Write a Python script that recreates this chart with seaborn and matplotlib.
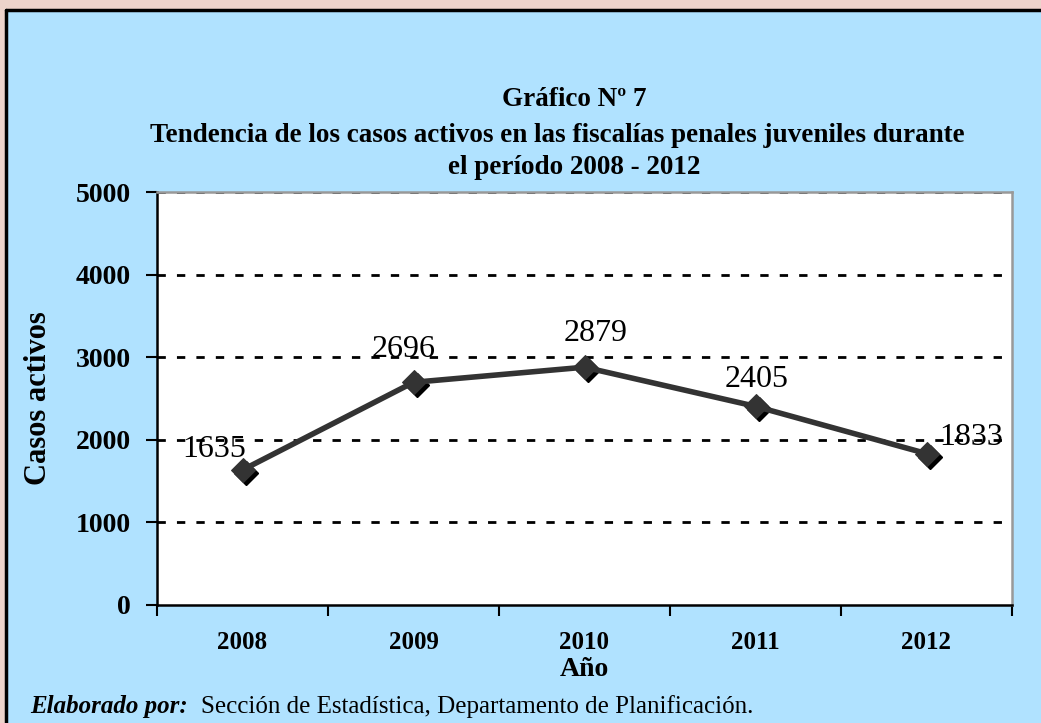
import matplotlib
matplotlib.use("Agg")
import matplotlib.pyplot as plt
import matplotlib.transforms as mtransforms
from matplotlib.patches import Rectangle
import seaborn as sns
import pandas as pd

years = ["2008", "2009", "2010", "2011", "2012"]
casos = [1635, 2696, 2879, 2405, 1833]
yticks = [0, 1000, 2000, 3000, 4000, 5000]

title_lines = ["Gráfico Nº 7",
               "Tendencia de los casos activos en las fiscalías penales juveniles durante",
               "el período 2008 - 2012"]

sns.set_theme(style="white")
plt.rcParams['font.family'] = ['Liberation Serif', 'DejaVu Serif']
plt.rcParams['text.color'] = 'black'
plt.rcParams['axes.labelcolor'] = 'black'
plt.rcParams['xtick.color'] = 'black'
plt.rcParams['ytick.color'] = 'black'

df = pd.DataFrame({"x": range(len(years)), "year": years, "casos": casos})

W, H = 1041, 723
fig = plt.figure(figsize=(W / 100, H / 100), dpi=100)
fig.patch.set_facecolor("#EDD3CB")
# blue panel
fig.patches.append(Rectangle((6 / W, 0), 1 - 6 / W, 1 - 10 / H, transform=fig.transFigure,
                             facecolor="#B0E2FF", edgecolor="none", zorder=-5))
fig.add_artist(plt.Line2D([6 / W, 1], [1 - 10 / H, 1 - 10 / H], transform=fig.transFigure,
                          color="black", lw=2.5, zorder=-4))
fig.add_artist(plt.Line2D([6 / W, 6 / W], [0, 1 - 10 / H], transform=fig.transFigure,
                          color="black", lw=2.5, zorder=-4))

ax = fig.add_axes([157 / W, 1 - 605 / H, (1012 - 157) / W, (605 - 192) / H])
ax.set_facecolor("white")

for y in yticks[1:]:
    ax.axhline(y, color="black", linestyle=(0, (3, 4)), linewidth=2, zorder=1)

# shadow markers
shadow = mtransforms.offset_copy(ax.transData, fig=fig, x=3, y=-3, units="dots")
ax.plot(df["x"], df["casos"], linestyle="none", marker="D", markersize=12, color="black",
        transform=shadow, zorder=3)
sns.lineplot(data=df, x="x", y="casos", ax=ax, color="#333333", linewidth=4,
             marker="D", markersize=12, markeredgecolor="#333333", zorder=4)

ax.set_xlim(-0.5, len(years) - 0.5)
ax.set_ylim(0, 5000)
ax.set_yticks(yticks)
ax.set_yticklabels([str(v) for v in yticks], fontsize=20, fontweight="bold", color="black")
ax.set_xticks(range(len(years)))
ax.set_xticklabels(years, fontsize=18, fontweight="bold", color="black")
ax.set_xticks([i - 0.5 for i in range(len(years) + 1)], minor=True)
ax.tick_params(axis="x", which="major", length=0, pad=19)
ax.tick_params(axis="x", which="minor", length=8, width=1.5, color="black", direction="out", bottom=True)
ax.tick_params(axis="y", which="major", length=8, width=1.5, color="black", direction="out",
               left=True, pad=11)

for s in ["left", "bottom"]:
    ax.spines[s].set_color("black")
    ax.spines[s].set_linewidth(1.8)
for s in ["right", "top"]:
    ax.spines[s].set_color("#999999")
    ax.spines[s].set_linewidth(1.8)

ax.set_xlabel("Año", fontsize=20, fontweight="bold", color="black")
ax.xaxis.set_label_coords(0.5, -0.126)
ax.set_ylabel("Casos activos", fontsize=22, fontweight="bold", color="black")
ax.yaxis.set_label_coords(-0.122, 0.5)

# data labels
offsets = [(-28, 20), (-10, 33), (11, 34), (1, 27), (45, 16)]
for xi, v, (dx, dy) in zip(df["x"], casos, offsets):
    ax.annotate(str(v), (xi, v), xytext=(dx, dy), textcoords="offset pixels", ha="center",
                va="center", fontsize=23, color="black", zorder=5)

for xx, yy, line in zip([574, 557, 574], [100, 136, 167], title_lines):
    fig.text(xx / W, 1 - yy / H, line, ha="center", va="center", fontsize=19.5,
             fontweight="bold", color="black")

fig.text(30 / W, 1 - 707 / H, "Elaborado por:", ha="left", va="center", fontsize=18,
         fontweight="bold", style="italic", color="black")
fig.text(201 / W, 1 - 707 / H, "Sección de Estadística, Departamento de Planificación.", ha="left",
         va="center", fontsize=18, color="black")

fig.savefig("out.png", dpi=100, facecolor=fig.get_facecolor())
